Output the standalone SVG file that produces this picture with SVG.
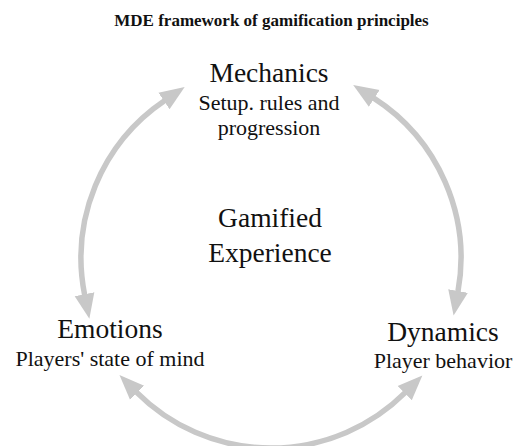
<svg xmlns="http://www.w3.org/2000/svg" width="515" height="446" viewBox="0 0 515 446">
<style>
text{font-family:"Liberation Serif","Times New Roman",serif;fill:#111;text-anchor:middle}
.title{font-size:17px;font-weight:bold}
.head{font-size:27.5px}
.sub{font-size:22px}
.arc{fill:none;stroke:#c8c8c8;stroke-width:5.5;marker-start:url(#ah);marker-end:url(#ah)}
</style>
<defs>
<marker id="ah" markerUnits="userSpaceOnUse" markerWidth="30" markerHeight="30" refX="1" refY="10" orient="auto-start-reverse" viewBox="0 0 30 20">
<path d="M0,0 L25,10 L0,20 Z" fill="#c8c8c8"/>
</marker>
</defs>
<rect width="515" height="446" fill="#fff"/>
<text class="title" x="271.5" y="26">MDE framework of gamification principles</text>
<g id="connectors">
<path class="arc" d="M164.8,100.5 A190,190 0 0 0 84.7,295.2"/>
<path class="arc" d="M373.4,97.9 A190,190 0 0 1 457.9,292"/>
<path class="arc" d="M136.4,392.1 A190,190 0 0 0 405.4,392.4"/>
</g>
<g id="mechanics">
<text class="head" x="269" y="82">Mechanics</text>
<text class="sub" x="269" y="110">Setup. rules and</text>
<text class="sub" x="269" y="135">progression</text>
</g>
<g id="center">
<text class="head" x="270" y="227">Gamified</text>
<text class="head" x="270" y="262">Experience</text>
</g>
<g id="emotions">
<text class="head" x="110" y="338">Emotions</text>
<text class="sub" x="110" y="366">Players' state of mind</text>
</g>
<g id="dynamics">
<text class="head" x="443" y="341">Dynamics</text>
<text class="sub" x="443" y="368">Player behavior</text>
</g>
</svg>
